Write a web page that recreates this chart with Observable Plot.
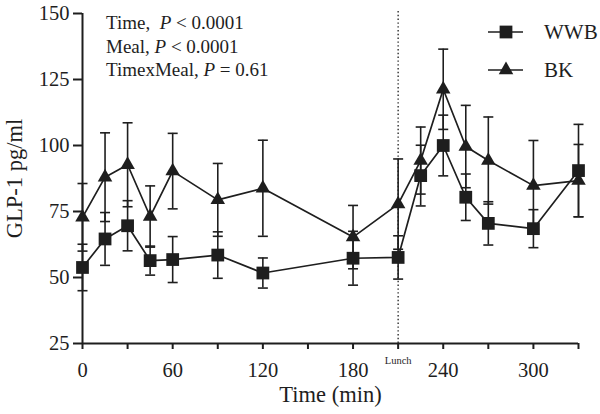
<!DOCTYPE html>
<html><head><meta charset="utf-8">
<script src="https://cdn.jsdelivr.net/npm/d3@7"></script>
<script src="https://cdn.jsdelivr.net/npm/@observablehq/plot@0.6"></script>
<style>
body{margin:0;background:#fff}
#chart svg{font-family:"Liberation Serif","Times New Roman",serif;background:#fff}
</style>
</head><body><div id="chart"></div>
<script>
// ---- data ----
const time   = [0, 15, 30, 45, 60, 90, 120, 180, 210, 225, 240, 255, 270, 300, 330];
const wwb    = [53.8, 64.6, 69.6, 56.4, 56.8, 58.5, 51.7, 57.3, 57.6, 88.6, 100.0, 80.4, 70.5, 68.5, 90.5];
const wwbErr = [8.8, 10.0, 9.5, 5.5, 8.7, 8.8, 5.7, 10.2, 8.2, 11.5, 11.5, 8.8, 8.2, 7.2, 17.5];
const bk     = [72.8, 88.0, 92.7, 73.1, 90.3, 79.4, 83.8, 65.3, 77.8, 94.3, 121.3, 99.6, 94.3, 84.8, 86.7];
const bkErr  = [12.8, 16.8, 15.9, 11.6, 14.3, 13.8, 18.2, 12.0, 17.1, 12.7, 15.2, 15.6, 16.5, 17.1, 13.7];
const seriesNames = ["WWB", "BK"];
const xTicks = [0, 30, 60, 90, 120, 150, 180, 210, 240, 270, 300, 330];
const xLabelled = [0, 60, 120, 180, 240, 300];
const yTicks = [25, 50, 75, 100, 125, 150];
const xTitle = "Time (min)";
const yTitle = "GLP-1 pg/ml";
const lunchTime = 210;
const lunchLabel = "Lunch";
const stats = [
  ["Time,  ", "P", " < 0.0001"],
  ["Meal, ", "P", " < 0.0001"],
  ["TimexMeal, ", "P", " = 0.61"]
];

const ink = "#1e1e1e";
const rows = [];
time.forEach((t, i) => {
  rows.push({t, v: wwb[i], e: wwbErr[i], s: seriesNames[0]});
  rows.push({t, v: bk[i], e: bkErr[i], s: seriesNames[1]});
});
const cap = {draw(ctx, size) { const r = Math.sqrt(size / Math.PI); ctx.moveTo(-r, 0); ctx.lineTo(r, 0); }};

const plot = Plot.plot({
  width: 600, height: 414,
  marginLeft: 82, marginRight: 22, marginTop: 13, marginBottom: 71,
  style: {fontSize: "20.5px", fontFamily: "Liberation Serif, serif", color: ink, background: "#fff"},
  x: {domain: [0, 330]},
  y: {domain: [25, 150]},
  marks: [
    Plot.ruleX([lunchTime], {x: d => d, y1: 25, y2: 151.3, stroke: ink, strokeWidth: 1.3, strokeDasharray: "1.4,2.4"}),
    Plot.text([lunchLabel], {x: () => lunchTime, text: d => d, frameAnchor: "bottom", dy: 20.5, fontSize: 10.5, fill: ink}),
    Plot.ruleX(rows, {x: "t", y1: d => d.v - d.e, y2: d => d.v + d.e, stroke: ink, strokeWidth: 1.6}),
    Plot.dot(rows, {x: "t", y: d => d.v + d.e, symbol: cap, r: 5, fill: "none", stroke: ink, strokeWidth: 1.6}),
    Plot.dot(rows, {x: "t", y: d => d.v - d.e, symbol: cap, r: 5, fill: "none", stroke: ink, strokeWidth: 1.6}),
    Plot.line(rows, {x: "t", y: "v", z: "s", stroke: ink, strokeWidth: 1.7}),
    Plot.dot(rows.filter(d => d.s === seriesNames[0]), {x: "t", y: "v", symbol: "square", r: 7.2, fill: ink, stroke: "none"}),
    Plot.dot(rows.filter(d => d.s === seriesNames[1]), {x: "t", y: "v", symbol: "triangle", r: 5.4, fill: ink, stroke: "none"}),
    Plot.ruleY([25], {x1: 0, x2: 330, stroke: ink, strokeWidth: 2}),
    Plot.ruleX([0], {y1: 25, y2: 150, stroke: ink, strokeWidth: 2}),
    Plot.axisX({ticks: xTicks, tickFormat: d => xLabelled.includes(d) ? String(d) : "", tickSize: 6, tickPadding: 13, label: null, strokeWidth: 2}),
    Plot.axisY({ticks: yTicks, tickSize: 9, tickPadding: 4, label: null, strokeWidth: 2}),
    Plot.text([xTitle], {text: d => d, frameAnchor: "bottom", dy: 58, fontSize: 22.5, fill: ink}),
    Plot.text([yTitle], {text: d => d, frameAnchor: "left", textAnchor: "middle", dx: -68, rotate: -90, fontSize: 22.5, fill: ink})
  ]
});
document.getElementById("chart").appendChild(plot);

// ---- stats annotation (italic P) ----
const svg = d3.select(plot);
const ann = svg.append("g").attr("font-size", 19).attr("fill", ink)
  .attr("font-family", "Liberation Serif, serif").attr("text-anchor", "start");
stats.forEach((s, i) => {
  const t = ann.append("text").attr("x", 106).attr("y", 29 + i * 23.5).attr("xml:space", "preserve").style("white-space", "pre");
  t.append("tspan").text(s[0]);
  t.append("tspan").attr("font-style", "italic").text(s[1]);
  t.append("tspan").text(s[2]);
});

// ---- legend ----
const leg = svg.append("g").attr("fill", ink).attr("font-family", "Liberation Serif, serif").attr("text-anchor", "start");
const legSymbols = [d3.symbol(d3.symbolSquare, Math.PI * 7.2 * 7.2), d3.symbol(d3.symbolTriangle, Math.PI * 5.4 * 5.4)];
seriesNames.forEach((name, i) => {
  const yy = 32 + i * 38;
  leg.append("line").attr("x1", 488).attr("x2", 523).attr("y1", yy).attr("y2", yy).attr("stroke", ink).attr("stroke-width", 1.7);
  leg.append("path").attr("d", legSymbols[i]()).attr("transform", `translate(506,${yy})`).attr("fill", ink);
  leg.append("text").attr("x", 544).attr("y", yy + 7).attr("font-size", 21).text(name);
});
</script>
</body></html>
